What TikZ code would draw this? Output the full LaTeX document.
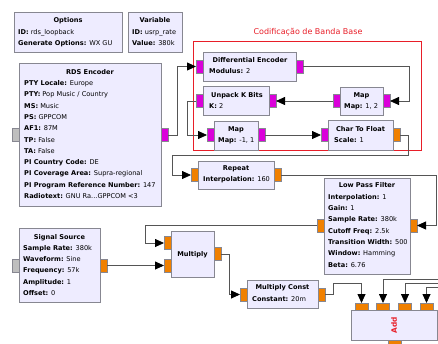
\documentclass[tikz,border=0pt]{standalone}
\usepackage{fontspec}
\setmainfont{DejaVu Sans}
\usetikzlibrary{arrows.meta}
\definecolor{blkfill}{RGB}{238,236,255}
\definecolor{blkline}{RGB}{135,135,145}
\definecolor{pmag}{RGB}{218,0,218}
\definecolor{porg}{RGB}{240,128,0}
\definecolor{pgray}{RGB}{190,190,190}
\definecolor{wire}{RGB}{85,85,85}
\definecolor{grpred}{RGB}{232,30,40}
\tikzset{
  blk/.style={draw=blkline, fill=blkfill, line width=0.8pt, inner sep=0pt, outer sep=0pt, anchor=north west},
  portv/.style={draw=blkline, line width=0.6pt, minimum width=7pt, minimum height=13pt, inner sep=0pt, outer sep=0pt},
  porth/.style={draw=blkline, line width=0.6pt, minimum width=13pt, minimum height=7pt, inner sep=0pt, outer sep=0pt},
  pm/.style={portv, fill=pmag},
  po/.style={portv, fill=porg},
  pg/.style={portv, fill=pgray},
  poh/.style={porth, fill=porg},
  ttlf/.style={font=\fontsize{6.6}{7}\selectfont\bfseries, inner sep=0pt, anchor=base},
  prmf/.style={font=\fontsize{6.6}{7}\selectfont, inner sep=0pt, anchor=base west},
  wirel/.style={draw=wire, line width=0.8pt},
  arr/.style={wirel, -{Triangle[length=9pt,width=8pt,color=black]}},
}
\newcommand\blkbox[5]{\node[blk, minimum width={#4-#2}, minimum height={#5-#3}] (#1) at (#2,#3) {};}
\newcommand\pk[2]{\textbf{#1:} #2}
\newcommand\ttl[4]{\node[ttlf] (#1) at (#2,#3) {#4};}
\newcommand\prm[4]{\node[prmf] (#1) at (#2,#3) {#4};}
\newcommand\plist[4]{\foreach \t [count=\i] in {#4} {\node[prmf] (#1-p\i) at (#2,{#3+11.3*(\i-1)}) {\t};}}
\begin{document}
\begin{tikzpicture}[x=1pt,y=-1pt]
\useasboundingbox (0,0) rectangle (438,343);
% group
\node[draw=grpred, line width=1.3pt, minimum width=228pt, minimum height=109pt, inner sep=0pt, anchor=north west] (grp) at (193,41) {};
\node[font=\fontsize{8}{9}\selectfont, text=grpred, inner sep=0pt] (grplbl) at (308,32) {Codificação de Banda Base};
% Options / Variable
\blkbox{opt}{14}{12}{122}{52}
\ttl{opt-t}{68}{22.5}{Options}
\plist{opt}{18}{34.5}{\pk{ID}{rds\_loopback},\pk{Generate Options}{WX GU}}
\blkbox{var}{128}{12}{182}{52}
\ttl{var-t}{155}{22.5}{Variable}
\plist{var}{132}{34.5}{\pk{ID}{usrp\_rate},\pk{Value}{380k}}
% RDS Encoder
\blkbox{rds}{19}{63}{161}{206}
\ttl{rds-t}{90}{74.5}{RDS Encoder}
\plist{rds}{24}{85.5}{\pk{PTY Locale}{Europe},\pk{PTY}{Pop Music / Country},\pk{MS}{Music},\pk{PS}{GPPCOM},\pk{AF1}{87M},\pk{TP}{False},\pk{TA}{False},\pk{PI Country Code}{DE},\pk{PI Coverage Area}{Supra-regional},\pk{PI Program Reference Number}{147},\pk{Radiotext}{GNU Ra...GPPCOM <3}}
\node[pg] (rds-in) at (15.5,135) {};
\node[pm] (rds-out) at (164.5,135) {};
% Differential Encoder
\blkbox{dif}{203}{52}{296}{81}
\ttl{dif-t}{250}{62.5}{Differential Encoder}
\prm{dif-p1}{209}{73.5}{\pk{Modulus}{2}}
\node[pm] (dif-in) at (199.5,66.5) {};
\node[pm] (dif-out) at (299.5,66.5) {};
% Unpack K Bits
\blkbox{unp}{203}{86}{269}{115}
\ttl{unp-t}{237}{97}{Unpack K Bits}
\prm{unp-p1}{209}{108.5}{\pk{K}{2}}
\node[pm] (unp-out) at (199.5,101) {};
\node[pm] (unp-in) at (272.5,101) {};
% Map top
\blkbox{mapt}{340}{87}{383}{115}
\ttl{mapt-t}{361.5}{97}{Map}
\prm{mapt-p1}{344}{108.5}{\pk{Map}{1, 2}}
\node[pm] (mapt-out) at (336.5,101) {};
\node[pm] (mapt-in) at (386.5,101) {};
% Map bottom
\blkbox{mapb}{214}{121}{258}{150}
\ttl{mapb-t}{236}{131}{Map}
\prm{mapb-p1}{218}{142.5}{\pk{Map}{-1, 1}}
\node[pm] (mapb-in) at (210.5,135) {};
\node[pm] (mapb-out) at (261.5,135) {};
% Char To Float
\blkbox{c2f}{328}{120}{393}{150}
\ttl{c2f-t}{360.5}{131}{Char To Float}
\prm{c2f-p1}{334}{142.5}{\pk{Scale}{1}}
\node[pm] (c2f-in) at (324.5,135) {};
\node[po] (c2f-out) at (396.5,135) {};
% Repeat
\blkbox{rep}{198}{161}{274}{189}
\ttl{rep-t}{236}{170.5}{Repeat}
\prm{rep-p1}{203}{181.6}{\pk{Interpolation}{160}}
\node[po] (rep-in) at (194.5,175) {};
\node[po] (rep-out) at (277.5,175) {};
% Low Pass Filter
\blkbox{lpf}{324}{178}{410}{274}
\ttl{lpf-t}{367}{187.5}{Low Pass Filter}
\plist{lpf}{328}{199.3}{\pk{Interpolation}{1},\pk{Gain}{1},\pk{Sample Rate}{380k},\pk{Cutoff Freq}{2.5k},\pk{Transition Width}{500},\pk{Window}{Hamming},\pk{Beta}{6.76}}
\node[po] (lpf-out) at (320.5,225.5) {};
\node[po] (lpf-in) at (413.5,225.5) {};
% Multiply
\blkbox{mul}{171}{231}{214}{277}
\ttl{mul-t}{192.5}{256.5}{Multiply}
\node[po] (mul-in1) at (167.5,243) {};
\node[po] (mul-in2) at (167.5,265.5) {};
\node[po] (mul-out) at (217.5,254) {};
% Signal Source
\blkbox{sig}{19}{228}{100}{302}
\ttl{sig-t}{59.5}{239}{Signal Source}
\plist{sig}{23}{250.3}{\pk{Sample Rate}{380k},\pk{Waveform}{Sine},\pk{Frequency}{57k},\pk{Amplitude}{1},\pk{Offset}{0}}
\node[pg] (sig-in) at (15.5,265.5) {};
\node[po] (sig-out) at (103.5,265.5) {};
% Multiply Const
\blkbox{mc}{247}{280}{318}{308}
\ttl{mc-t}{282.5}{289.6}{Multiply Const}
\prm{mc-p1}{252}{301.6}{\pk{Constant}{20m}}
\node[po] (mc-in) at (243.5,294.5) {};
\node[po] (mc-out) at (321.5,294.5) {};
% Add
\blkbox{add}{351}{310}{437}{340}
\node[font=\fontsize{7.4}{8}\selectfont\bfseries, inner sep=0pt, anchor=center, rotate=90, text=grpred] (add-t) at (394,325) {Add};
\node[poh] (add-in1) at (361.5,306.5) {};
\node[poh] (add-in2) at (383,306.5) {};
\node[poh] (add-in3) at (405,306.5) {};
\node[poh] (add-in4) at (426.5,306.5) {};
\node[porth, fill=porg, minimum height=8pt] (add-out) at (394.5,344) {};
% free ends
\coordinate (e2) at (440,279.5);
\coordinate (e3) at (440,283.5);
\coordinate (e4) at (440,287.5);
% connectors
\draw[arr] (rds-out.east) -- ++(9,0) |- (dif-in.west);
\draw[arr] (dif-out.east) -- ++(106,0) |- (mapt-in.east);
\draw[arr] (mapt-out.west) -- (unp-in.east);
\draw[arr] (unp-out.west) -- ++(-8.5,0) |- (mapb-in.west);
\draw[arr] (mapb-out.east) -- (c2f-in.west);
\draw[arr] (c2f-out.east) -- ++(8,0) |- (172,155) |- (rep-in.west);
\draw[arr] (rep-out.east) -- (436,175) |- (lpf-in.east);
\draw[arr] (lpf-out.west) -- (145,225.5) |- (mul-in1.west);
\draw[arr] (sig-out.east) -- (mul-in2.west);
\draw[arr] (mul-out.east) -- (229,254) |- (mc-in.west);
\draw[arr] (mc-out.east) -- (333,294.5) |- (361.5,283) -- (add-in1.north);
\draw[arr] (e2) -| (add-in2.north);
\draw[arr] (e3) -| (add-in3.north);
\draw[arr] (e4) -| (add-in4.north);
\end{tikzpicture}
\end{document}
